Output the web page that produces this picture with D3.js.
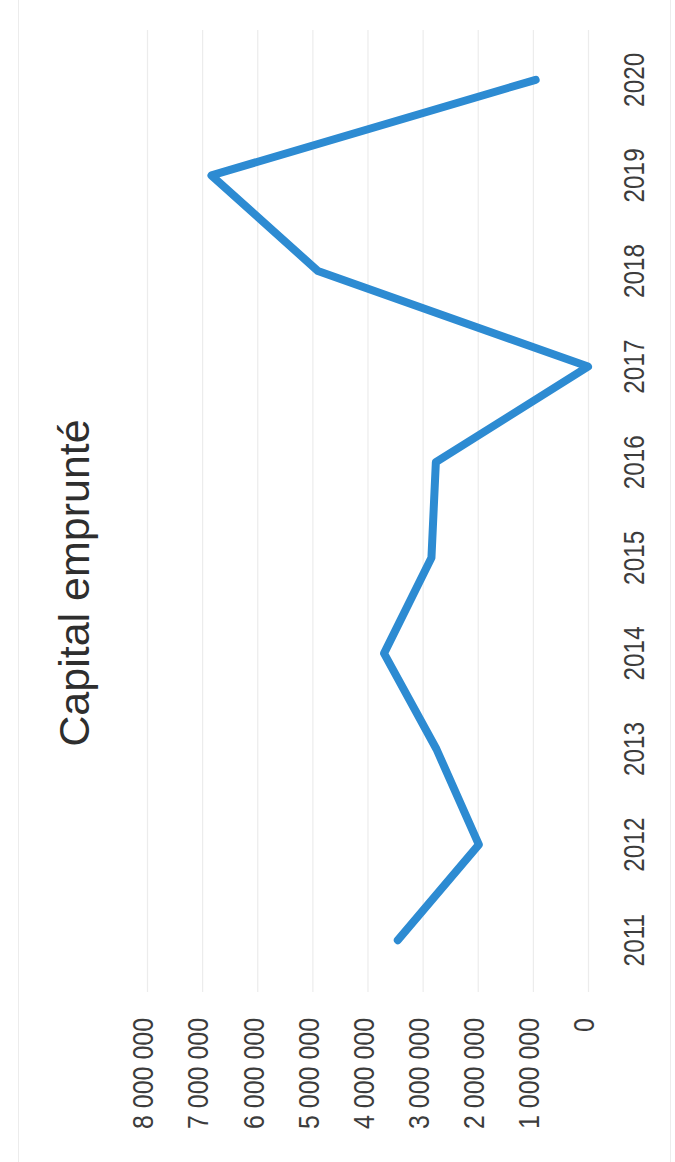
<!DOCTYPE html>
<html>
<head>
<meta charset="utf-8">
<script src="https://cdn.jsdelivr.net/npm/d3@7"></script>
<style>
  html, body { margin: 0; padding: 0; background: #ffffff; }
  svg { display: block; }
</style>
</head>
<body>
<div id="chart"></div>
<script>
// Capital emprunté par année
const years = ["2011", "2012", "2013", "2014", "2015", "2016", "2017", "2018", "2019", "2020"];
const capital = [3450000, 1980000, 2750000, 3700000, 2840000, 2760000, 0, 4900000, 6830000, 950000];
const valueTicks = [0, 1000000, 2000000, 3000000, 4000000, 5000000, 6000000, 7000000, 8000000];
const title = "Capital emprunté";

const W = 675, H = 1162;
const svg = d3.select("#chart").append("svg")
  .attr("width", W).attr("height", H);

// faint outer frame
svg.append("rect")
  .attr("x", 18.5).attr("y", -2).attr("width", 652).attr("height", H + 4)
  .attr("fill", "none").attr("stroke", "#ececec").attr("stroke-width", 1);

// The chart is laid out landscape (width = page height) and turned a quarter turn
const g = svg.append("g").attr("transform", `translate(0,${H}) rotate(-90)`);

const x = d3.scaleBand().domain(years).range([174, 1130]);
const y = d3.scaleLinear().domain([0, 8000000]).range([588, 147]);

const fr = d3.formatLocale({ decimal: ",", thousands: "\u00a0", grouping: [3], currency: ["", " €"] });
const fmt = fr.format(",d");

const tickFont = "'Liberation Sans Narrow', 'Arial Narrow', 'Liberation Sans', sans-serif";
const textColor = "#3c3c3c";

// squeeze tick labels to a condensed width
function condense(sel, k) {
  sel.each(function () {
    const len = this.getComputedTextLength();
    d3.select(this).attr("textLength", len * k).attr("lengthAdjust", "spacingAndGlyphs");
  });
}

// value axis with gridlines
const yAxis = g.append("g")
  .attr("transform", `translate(170,0)`)
  .call(d3.axisLeft(y).tickValues(valueTicks).tickFormat(fmt)
    .tickSizeInner(-(1132 - 170)).tickSizeOuter(0).tickPadding(26));
yAxis.select(".domain").remove();
yAxis.selectAll(".tick line").attr("stroke", "#ececec").attr("stroke-width", 1.2);
yAxis.selectAll(".tick text")
  .attr("fill", textColor)
  .attr("dy", "0.2em")
  .style("font-family", tickFont)
  .style("font-size", "29px")
  .call(condense, 0.86);

// category axis
const xAxis = g.append("g")
  .attr("transform", `translate(0,${y(0)})`)
  .call(d3.axisBottom(x).tickSize(0).tickPadding(35));
xAxis.select(".domain").remove();
xAxis.selectAll(".tick text")
  .attr("fill", textColor)
  .style("font-family", tickFont)
  .style("font-size", "29px")
  .call(condense, 0.84);

// series line
const line = d3.line()
  .x((d, i) => x(years[i]) + x.bandwidth() / 2)
  .y(d => y(d));

g.append("path")
  .datum(capital)
  .attr("d", line)
  .attr("fill", "none")
  .attr("stroke", "#2d8bd2")
  .attr("stroke-width", 8)
  .attr("stroke-linejoin", "round")
  .attr("stroke-linecap", "round");

// title
g.append("text")
  .attr("x", 579).attr("y", 89)
  .attr("text-anchor", "middle")
  .attr("fill", "#2e2e2e")
  .style("font-family", "'Liberation Sans', Arial, sans-serif")
  .style("font-size", "43px")
  .text(title);
</script>
</body>
</html>
